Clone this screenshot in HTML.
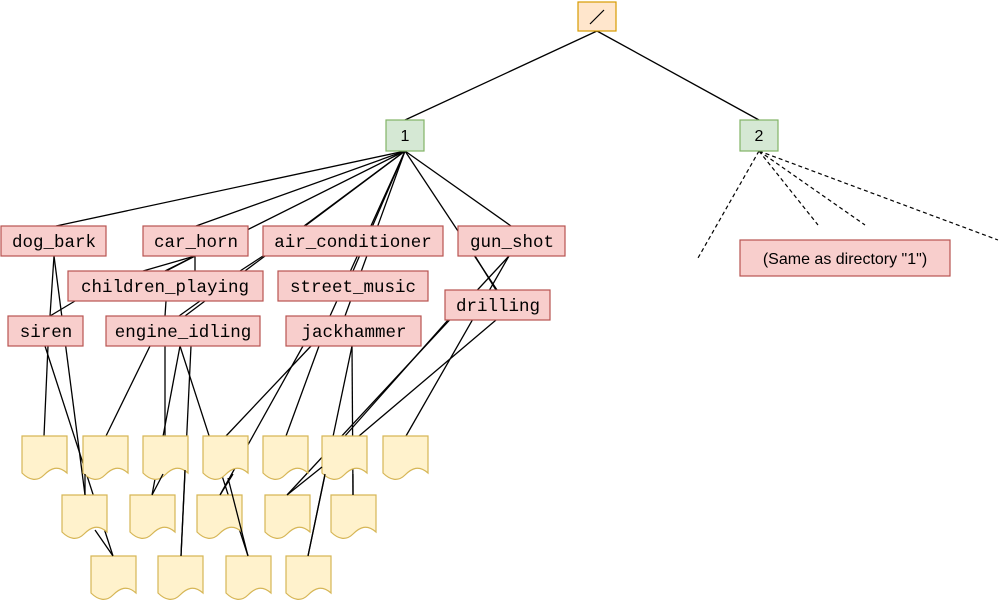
<!DOCTYPE html>
<html><head><meta charset="utf-8"><style>
html,body{margin:0;padding:0;background:#fff;}
svg{display:block;}
.l{stroke:#000;stroke-width:1.3;fill:none;}
.d{stroke:#000;stroke-width:1.2;fill:none;stroke-dasharray:4,3;}
.lab{fill:#f8cecc;stroke:#b85450;stroke-width:1.2;}
.t{font-family:"Liberation Mono",monospace;font-size:17.5px;text-anchor:middle;}
.s{font-family:"Liberation Sans",sans-serif;font-size:16px;text-anchor:middle;}
.doc{fill:#fff2cc;stroke:#d6b656;stroke-width:1.2;}
</style></head><body>
<svg width="1001" height="602" viewBox="0 0 1001 602">
<defs>
<path id="doc" class="doc" d="M0,0 H45 V37 C36,29 29,32 22,39 C15,46 7,44 0,37 Z"/>
</defs>
<line class="l" x1="597" y1="31" x2="405" y2="120"/>
<line class="l" x1="597" y1="31" x2="759" y2="120"/>
<line class="d" x1="759" y1="151" x2="698" y2="258"/>
<line class="d" x1="759" y1="151" x2="818" y2="225"/>
<line class="d" x1="759" y1="151" x2="865" y2="225"/>
<line class="d" x1="759" y1="151" x2="998" y2="240"/>
<g class="l">
<line x1="405" y1="151" x2="56" y2="226"/>
<line x1="405" y1="151" x2="196" y2="226"/>
<line x1="405" y1="151" x2="165" y2="271"/>
<line x1="405" y1="151" x2="185" y2="316"/>
<line x1="405" y1="151" x2="304" y2="226"/>
<line x1="405" y1="151" x2="353" y2="271"/>
<line x1="405" y1="151" x2="330" y2="316"/>
<line x1="405" y1="151" x2="345" y2="316"/>
<line x1="405" y1="151" x2="497" y2="290"/>
<line x1="405" y1="151" x2="511" y2="226"/>
<line x1="195" y1="256" x2="143" y2="271"/>
<line x1="195" y1="256" x2="166" y2="271"/>
<line x1="195" y1="256" x2="195" y2="271"/>
<line x1="75" y1="301" x2="50" y2="316"/>
<line x1="166" y1="301" x2="165" y2="316"/>
<line x1="200" y1="301" x2="179" y2="316"/>
<line x1="263" y1="256" x2="240" y2="271"/>
<line x1="475" y1="256" x2="496" y2="290"/>
<line x1="54" y1="256" x2="85" y2="495"/>
<line x1="54" y1="256" x2="48" y2="346"/>
<line x1="45" y1="346" x2="113" y2="556"/>
<line x1="48" y1="346" x2="44" y2="436"/>
<line x1="150" y1="346" x2="106" y2="436"/>
<line x1="165" y1="346" x2="165" y2="436"/>
<line x1="180" y1="346" x2="152" y2="495"/>
<line x1="191" y1="346" x2="181" y2="556"/>
<line x1="180" y1="346" x2="248" y2="556"/>
<line x1="303" y1="346" x2="220" y2="495"/>
<line x1="311" y1="346" x2="226" y2="436"/>
<line x1="319" y1="346" x2="286" y2="436"/>
<line x1="352" y1="346" x2="308" y2="556"/>
<line x1="352" y1="346" x2="353" y2="495"/>
<line x1="448" y1="320" x2="345" y2="436"/>
<line x1="496" y1="320" x2="359" y2="436"/>
<line x1="509" y1="256" x2="406" y2="436"/>
<line x1="509" y1="256" x2="287" y2="495"/>
</g>
<rect x="578" y="2" width="38" height="29" fill="#ffe6cc" stroke="#d79b00" stroke-width="1.2"/>
<line x1="590" y1="24" x2="604" y2="10" stroke="#000" stroke-width="1.2"/>
<rect x="386" y="120" width="38" height="31" fill="#d5e8d4" stroke="#82b366" stroke-width="1.2"/>
<text class="s" x="405" y="141">1</text>
<rect x="740" y="120" width="38" height="31" fill="#d5e8d4" stroke="#82b366" stroke-width="1.2"/>
<text class="s" x="759" y="141">2</text>
<rect class="lab" x="740" y="240" width="210" height="36"/>
<text class="s" x="845" y="264">(Same as directory "1")</text>
<g>
<rect class="lab" x="1" y="226" width="105" height="30"/><text class="t" x="54" y="247">dog_bark</text>
<rect class="lab" x="143" y="226" width="105" height="30"/><text class="t" x="196" y="247">car_horn</text>
<rect class="lab" x="263" y="226" width="180" height="30"/><text class="t" x="353" y="247">air_conditioner</text>
<rect class="lab" x="458" y="226" width="107" height="30"/><text class="t" x="512" y="247">gun_shot</text>
<rect class="lab" x="68" y="271" width="195" height="30"/><text class="t" x="165" y="292">children_playing</text>
<rect class="lab" x="278" y="271" width="150" height="30"/><text class="t" x="353" y="292">street_music</text>
<rect class="lab" x="445" y="290" width="105" height="30"/><text class="t" x="498" y="311">drilling</text>
<rect class="lab" x="8" y="316" width="75" height="30"/><text class="t" x="46" y="337">siren</text>
<rect class="lab" x="106" y="316" width="154" height="30"/><text class="t" x="183" y="337">engine_idling</text>
<rect class="lab" x="286" y="316" width="135" height="30"/><text class="t" x="354" y="337">jackhammer</text>
</g>
<use href="#doc" x="22" y="436"/><use href="#doc" x="83" y="436"/><use href="#doc" x="143" y="436"/>
<use href="#doc" x="203" y="436"/><use href="#doc" x="263" y="436"/><use href="#doc" x="322" y="436"/>
<use href="#doc" x="383" y="436"/>
<use href="#doc" x="62" y="495"/><use href="#doc" x="130" y="495"/><use href="#doc" x="197" y="495"/>
<use href="#doc" x="265" y="495"/><use href="#doc" x="331" y="495"/>
<use href="#doc" x="91" y="556"/><use href="#doc" x="158" y="556"/><use href="#doc" x="226" y="556"/>
<use href="#doc" x="286" y="556"/>
<g class="l">
<line x1="85" y1="474" x2="85" y2="495"/>
<line x1="163" y1="474" x2="152" y2="495"/>
<line x1="185" y1="470" x2="181" y2="556"/>
<line x1="228" y1="478" x2="248" y2="556"/>
<line x1="233" y1="474" x2="220" y2="495"/>
<line x1="322" y1="467" x2="287" y2="495"/>
<line x1="325" y1="474" x2="308" y2="556"/>
<line x1="353" y1="474" x2="353" y2="495"/>
<line x1="95" y1="530" x2="113" y2="556"/>
</g>
</svg>
</body></html>
